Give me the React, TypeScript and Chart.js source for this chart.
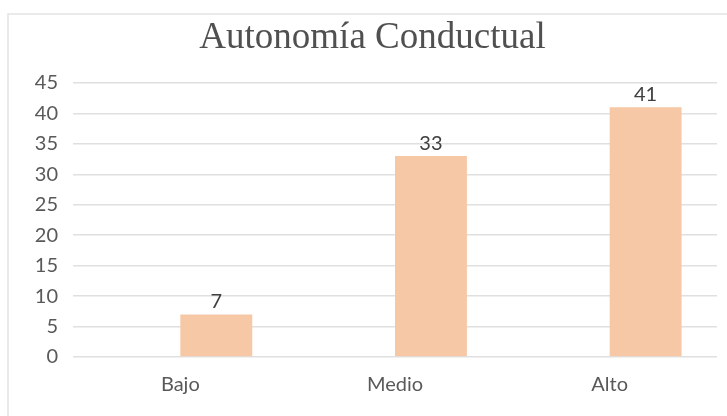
import React, { useEffect, useRef } from "react";
import { Chart, registerables } from "chart.js";

Chart.register(...registerables);

const categories = ["Bajo", "Medio", "Alto"];
const values = [7, 33, 41];
const yTicks = [0, 5, 10, 15, 20, 25, 30, 35, 40, 45];
const titleText = "Autonomía Conductual";

const TEXT = "#595959";
const BAR = "#F6C8A6";
const GRID = "#e0e0e0";

const framePlugin = {
  id: "frame",
  beforeDraw(chart: any) {
    const ctx = chart.ctx;
    ctx.save();
    ctx.fillStyle = "#ffffff";
    ctx.fillRect(0, 0, chart.width, chart.height);
    ctx.strokeStyle = "#e3e3e3";
    ctx.lineWidth = 1.5;
    ctx.strokeRect(8, 14, chart.width + 20, chart.height + 20);
    ctx.fillStyle = "#505050";
    ctx.font = '37px "Liberation Serif", "Times New Roman", "DejaVu Serif", serif';
    ctx.textAlign = "center";
    ctx.textBaseline = "alphabetic";
    ctx.fillText(titleText, 372.5, 48);
    ctx.restore();
  },
  afterDatasetsDraw(chart: any) {
    const ctx = chart.ctx;
    const meta = chart.getDatasetMeta(1);
    ctx.save();
    ctx.fillStyle = "#404040";
    ctx.font = "20px Lato, sans-serif";
    ctx.textAlign = "center";
    ctx.textBaseline = "alphabetic";
    meta.data.forEach((el: any, i: number) => {
      const v = chart.data.datasets[1].data[i];
      if (v == null) return;
      ctx.fillText(String(v), el.x, el.y - 6);
    });
    ctx.restore();
  },
};

export default function App() {
  const ref = useRef<HTMLCanvasElement>(null);
  useEffect(() => {
    if (!ref.current) return;
    const chart = new Chart(ref.current, {
      type: "bar",
      data: {
        labels: categories,
        datasets: [
          { label: "blank", data: categories.map(() => null), backgroundColor: BAR },
          { label: "Serie", data: values, backgroundColor: BAR },
        ],
      },
      options: {
        animation: false,
        responsive: false,
        devicePixelRatio: 1,
        layout: { padding: { top: 83, left: 8, right: 10, bottom: 0 } },
        plugins: {
          legend: { display: false },
          title: { display: false },
          tooltip: { enabled: false },
        },
        datasets: {
          bar: { categoryPercentage: 0.67, barPercentage: 1.0 },
        },
        scales: {
          x: {
            grid: { display: false, drawTicks: false },
            border: { display: false },
            ticks: {
              color: TEXT,
              font: { family: "Lato, sans-serif", size: 20 },
              padding: 16,
            },
            afterFit: (s: any) => {
              s.height = 59;
            },
          },
          y: {
            min: 0,
            max: 45,
            grid: { color: GRID, lineWidth: 1.5, drawTicks: false },
            border: { display: false },
            afterBuildTicks: (s: any) => {
              s.ticks = yTicks.map((v) => ({ value: v }));
            },
            ticks: {
              color: TEXT,
              font: { family: "Lato, sans-serif", size: 20 },
              padding: 15,
            },
            afterFit: (s: any) => {
              s.width = 65;
            },
          },
        },
      },
      plugins: [framePlugin],
    } as any);
    return () => chart.destroy();
  }, []);
  return (
    <div style={{ position: "fixed", left: 0, top: 0, width: 727, height: 416, background: "#fff" }}>
      <canvas ref={ref} width={727} height={416} style={{ display: "block" }} />
    </div>
  );
}
